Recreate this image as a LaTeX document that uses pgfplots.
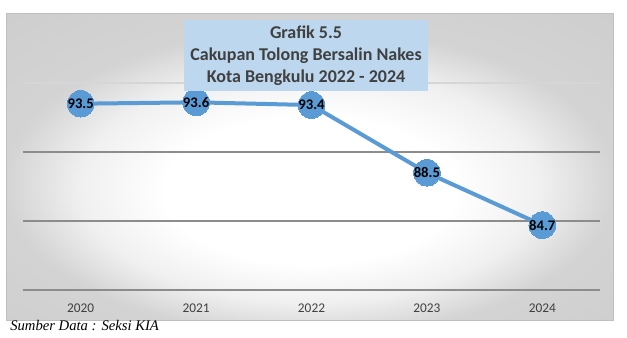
\documentclass[border=0pt]{standalone}
\usepackage{pgfplots}
\pgfplotsset{compat=1.18}
\usepackage{fontspec}
\setmainfont{Carlito}
\newfontfamily\srcfont{Liberation Serif}
\definecolor{lineblue}{HTML}{5B9BD5}
\definecolor{titlebox}{HTML}{BDD7EE}
\definecolor{txtgray}{HTML}{404040}
\definecolor{edgegray}{HTML}{BFBFBF}
\pgfdeclareradialshading{bgshade}{\pgfpoint{0bp}{-5bp}}{%
  color(0bp)=(white); color(12bp)=(white); color(19bp)=(black!6); color(25bp)=(black!17); color(50bp)=(black!22)}
\begin{document}
\begin{tikzpicture}
\useasboundingbox (0,0) rectangle (470.25pt,253.5pt);
\fill[white] (0,0) rectangle (470.25pt,253.5pt);
\shade[shading=bgshade] (4.5pt,13pt) rectangle (460.3pt,243pt);
\draw[edgegray, line width=0.75pt] (4.5pt,13pt) rectangle (460.3pt,243pt);
\begin{axis}[
  at={(17.25pt,36pt)}, anchor=south west,
  scale only axis, width=432.75pt, height=155.25pt,
  xmin=-0.5, xmax=4.5, ymin=80, ymax=95,
  clip=false,
  axis line style={draw=none},
  tick style={draw=none},
  xtick={0,1,2,3,4},
  xticklabels={2020,2021,2022,2023,2024},
  xticklabel style={anchor=base, yshift=-17pt, font=\fontsize{10}{12}\selectfont, text=txtgray},
  ytick={85,90}, yticklabels={},
  minor ytick={95},
  extra y ticks={80}, extra y tick labels={},
  ymajorgrids, yminorgrids,
  major grid style={draw=black!45, line width=1pt},
  minor grid style={draw=black!16, line width=1pt},
  extra y tick style={grid style={draw=txtgray, line width=1.6pt}},
  /pgf/number format/assume math mode=true,
  nodes near coords,
  nodes near coords align={center},
  every node near coord/.append style={anchor=center, font=\bfseries\fontsize{11}{13}\selectfont, text=black,
    /pgf/number format/fixed, /pgf/number format/precision=1, /pgf/number format/fixed zerofill},
]
\addplot[color=lineblue, line width=3pt, mark=*, mark size=10pt,
  mark options={fill=lineblue, draw=lineblue, line width=0pt}]
  coordinates {(0,93.5) (1,93.6) (2,93.4) (3,88.5) (4,84.7)};
\end{axis}
\fill[titlebox] (138pt,185.5pt) rectangle (321pt,238.5pt);
\node[align=center, text=txtgray, font=\bfseries\fontsize{13.5}{16.5}\selectfont] at (229.5pt,212pt)
  {Grafik 5.5\\Cakupan Tolong Bersalin Nakes\\Kota Bengkulu 2022 - 2024};
\node[anchor=base west, inner sep=0pt, font=\srcfont\itshape\fontsize{11}{13}\selectfont] at (7.5pt,5.25pt)
  {Sumber Data : Seksi KIA};
\end{tikzpicture}
\end{document}
